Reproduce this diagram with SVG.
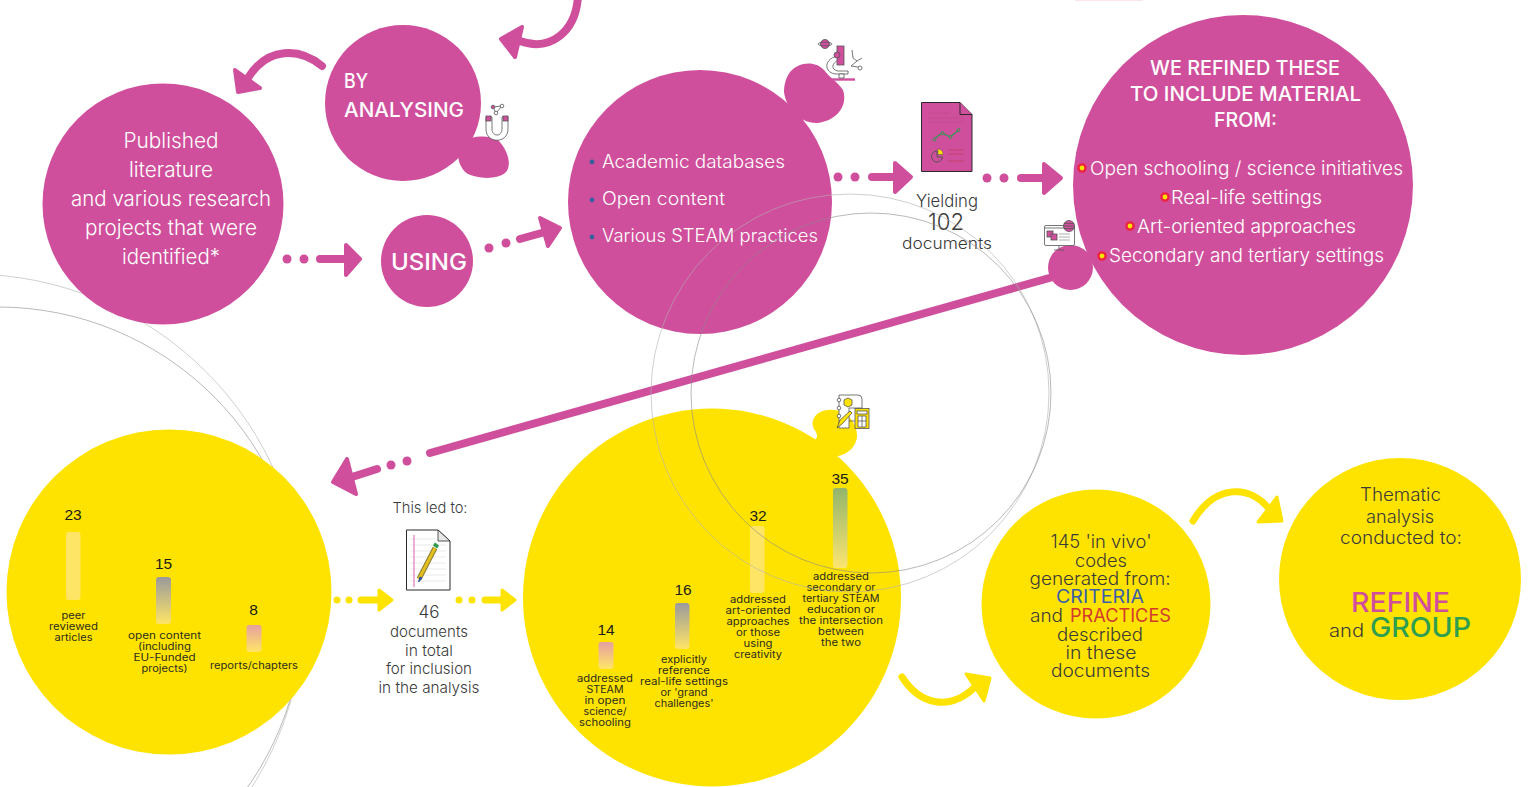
<svg xmlns="http://www.w3.org/2000/svg" width="1531" height="787" viewBox="0 0 1531 787">
<style>
text{font-family:"Inter","Lato","Liberation Sans",sans-serif;font-weight:300;text-anchor:middle;fill:#3a3a3a}
.w{fill:#fff}
.b{font-weight:500}
.l{text-anchor:start}
.p{fill:#d04f9c}
.y{fill:#ffe300}
.pa{fill:#d04f9c;stroke:#d04f9c;stroke-width:4;stroke-linejoin:round}
.ps{fill:none;stroke:#d04f9c;stroke-width:8;stroke-linecap:round}
.ya{fill:#ffe300;stroke:#ffe300;stroke-width:3;stroke-linejoin:round}
.ys{fill:none;stroke:#ffe300;stroke-width:7;stroke-linecap:round}
.n{font-family:"Liberation Sans",Arial,sans-serif;font-weight:400;font-size:15.5px;fill:#1c1c1c}
.s{font-size:10px;fill:#2c2c20;font-weight:400}
.f22{font-size:21px}.f19{font-size:18px}.f17{font-size:16px}
.arc{fill:none;stroke:#b0b0b0;stroke-width:.6}
.arc2{fill:none;stroke:#8a8a8a;stroke-width:.6}
.ic{fill:none;stroke:#555;stroke-width:.8}
.rd{fill:#ffe300;stroke:#ee2244;stroke-width:2.4}
.bd{fill:#3a5f9e}
</style>
<defs>
<linearGradient id="gp" x1="0" y1="0" x2="0" y2="1"><stop offset="0" stop-color="#ffe566"/><stop offset="1" stop-color="#ffe566"/></linearGradient>
<linearGradient id="gg" x1="0" y1="0" x2="0" y2="1"><stop offset="0" stop-color="#9a9a9c"/><stop offset="1" stop-color="#ffe566"/></linearGradient>
<linearGradient id="gr" x1="0" y1="0" x2="0" y2="1"><stop offset="0" stop-color="#e6a0a0"/><stop offset="1" stop-color="#ffe566"/></linearGradient>
<linearGradient id="gv" x1="0" y1="0" x2="0" y2="1"><stop offset="0" stop-color="#93b56c"/><stop offset="1" stop-color="#fbe570"/></linearGradient>
</defs>

<g id="background-arcs">
<circle class="arc" cx="-30" cy="608" r="334"/>
<circle class="arc2" cx="-2" cy="612" r="305"/>
<rect x="1075" y="0" width="68" height="1" fill="#fbe3f0"/>
</g>

<g id="connectors">
<path class="ps" d="M578 -4C576 32 550 52 520 41"/>
<path class="pa" d="M522 27L501 39L515 57Z"/>
<path class="ps" d="M322 66C300 48 268 46 248 78"/>
<path class="pa" d="M235 70L260 88L238 92Z"/>
<g><circle class="p" cx="287" cy="259" r="4.5"/><circle class="p" cx="304" cy="259" r="4.5"/><path class="ps" d="M320 259H345"/><path class="pa" d="M346 245L360 259L346 275Z"/></g>
<g><circle class="p" cx="489" cy="248" r="4.5"/><circle class="p" cx="506" cy="243" r="4.5"/><path class="ps" d="M520 239L545 232"/><path class="pa" d="M540 218L560 228L548 246Z"/></g>
<g><circle class="p" cx="838" cy="177" r="4.5"/><circle class="p" cx="855" cy="177" r="4.5"/><path class="ps" d="M872 177H897"/><path class="pa" d="M895 163L911 177L895 192Z"/></g>
<g><circle class="p" cx="987" cy="178" r="4.5"/><circle class="p" cx="1004" cy="178" r="4.5"/><path class="ps" d="M1021 178H1044"/><path class="pa" d="M1044 164L1061 178L1044 193Z"/></g>
<path class="ps" d="M1060 275L430 453"/>
<g><circle class="p" cx="407" cy="461" r="4.5"/><circle class="p" cx="391" cy="465" r="4.5"/><path class="ps" d="M377 469L352 477"/><path class="pa" d="M347 459L333 482L356 494Z"/></g>
<g><circle class="y" cx="337" cy="600" r="3.5"/><circle class="y" cx="349" cy="600" r="3.5"/><path class="ys" d="M361 600H380"/><path class="ya" d="M379 590L392 600L379 610Z"/></g>
<g><circle class="y" cx="459" cy="600" r="3.5"/><circle class="y" cx="472" cy="600" r="3.5"/><path class="ys" d="M485 600H502"/><path class="ya" d="M502 590L515 600L502 610Z"/></g>
<path class="ys" d="M902 677C920 705 950 712 976 686"/>
<path class="ya" d="M966 674L990 678L984 701Z"/>
<path class="ys" d="M1193 521C1215 484 1250 484 1270 510"/>
<path class="ya" d="M1277 497L1282 521L1258 522Z"/>
</g>

<g id="published"><circle class="p" cx="163" cy="204" r="120.500"/>
<text class="w f22" x="171" y="148" textLength="95" lengthAdjust="spacingAndGlyphs">Published</text>
<text class="w f22" x="171" y="177" textLength="84" lengthAdjust="spacingAndGlyphs">literature</text>
<text class="w f22" x="171" y="206" textLength="200" lengthAdjust="spacingAndGlyphs">and various research</text>
<text class="w f22" x="171" y="235" textLength="172" lengthAdjust="spacingAndGlyphs">projects that were</text>
<text class="w f22" x="171" y="264" textLength="98" lengthAdjust="spacingAndGlyphs">identified*</text>
</g>

<g id="by-analysing"><circle class="p" cx="403" cy="103" r="78"/>
<path class="p" d="M462 142C472 135 490 135 498 140C508 150 512 165 506 172C498 180 478 179 468 174C458 168 455 152 462 142Z"/>
<text class="w b" x="344" y="88" font-size="20" style="text-anchor:start" textLength="24" lengthAdjust="spacingAndGlyphs">BY</text>
<text class="w b" x="344" y="117" font-size="20" style="text-anchor:start" textLength="120" lengthAdjust="spacingAndGlyphs">ANALYSING</text>
<g class="ic"><path d="M486 117V129C486 144 508 144 508 129V117H502V129C502 137 492 137 492 129V117Z" fill="#fff"/><rect x="486" y="116" width="5" height="5" fill="#d04f9c"/><rect x="503" y="116" width="5" height="5" fill="#d04f9c"/><path d="M493 107L502 106L496 113Z"/><circle cx="493" cy="107" r="1.8" fill="#d04f9c"/><circle cx="502" cy="106" r="1.8" fill="#fff"/><circle cx="496" cy="113" r="1.8" fill="#fff"/></g>
</g>

<g id="using"><circle class="p" cx="427" cy="261" r="46"/>
<text class="w b" x="429" y="270" font-size="23" textLength="76" lengthAdjust="spacingAndGlyphs">USING</text>
</g>

<g id="academic"><circle class="p" cx="700" cy="202" r="132"/>
<path class="p" d="M790 72C798 62 815 60 824 70C830 78 838 82 843 90C848 105 838 120 818 123C800 124 786 108 784 92C784 84 786 78 790 72Z"/>
<circle class="bd" cx="592" cy="162" r="2.4"/><circle class="bd" cx="592" cy="200" r="2.4"/><circle class="bd" cx="592" cy="237" r="2.4"/>
<text class="w l" x="602" y="168" font-size="18" textLength="183" lengthAdjust="spacingAndGlyphs">Academic databases</text>
<text class="w l" x="602" y="205" font-size="18" textLength="123" lengthAdjust="spacingAndGlyphs">Open content</text>
<text class="w l" x="602" y="242" font-size="18" textLength="216" lengthAdjust="spacingAndGlyphs">Various STEAM practices</text>
<g class="ic"><path d="M826 79.500H855" stroke="#d04f9c" stroke-width="2.400"/><path d="M838 56C824 58 823 73 836 74H848V71H838C831 70 831 63 839 60Z" fill="#fff"/><path d="M839 74H844V78H839Z" fill="#fff"/><rect x="837" y="46" width="7" height="19" fill="#d04f9c"/><circle cx="837" cy="55" r="3" fill="#d04f9c"/><path d="M852 50L853 58L857 61L851 66L858 67M857 61L862 58"/><circle cx="860" cy="68" r="2" fill="#fff"/><circle cx="825" cy="44" r="4.500" fill="#d04f9c"/><ellipse cx="825" cy="44" rx="7" ry="1.800"/></g>
</g>

<g id="doc-pink">
<path d="M921.500 102.500H960L972 114.500V171.500H921.500Z" fill="#d04f9c" stroke="#2a2a2a" stroke-width="1"/>
<path d="M960 102.500V114.500H972" fill="#d04f9c" stroke="#2a2a2a"/>
<path d="M928 113H950M928 118H964M928 122H964" stroke="#b84a86" stroke-width=".7"/>
<path d="M934 139L942 133L950 137L959 130" fill="none" stroke="#2d9a50" stroke-width="1.100"/>
<g fill="#d04f9c" stroke="#2d9a50" stroke-width="1"><circle cx="934.500" cy="139.500" r="1.500"/><circle cx="942.500" cy="133" r="1.500"/><circle cx="950.500" cy="137" r="1.500"/><circle cx="958.500" cy="130" r="1.500"/></g>
<path d="M937 151A5.500 5.500 0 1 0 942.500 157H937Z" fill="none" stroke="#555" stroke-width="1"/>
<path d="M938 149A5 5 0 0 1 943 154.500H938Z" fill="#ffe300" stroke="#555" stroke-width=".5"/>
<path d="M948 150H964M948 154H964M948 161H964" stroke="#c23c60" stroke-width=".8"/>
<text x="947" y="207" font-size="17" textLength="62" lengthAdjust="spacingAndGlyphs">Yielding</text>
<text x="946" y="230" font-size="23" textLength="36" lengthAdjust="spacingAndGlyphs">102</text>
<text x="947" y="249" font-size="16" textLength="90" lengthAdjust="spacingAndGlyphs">documents</text>
</g>

<g id="refined"><circle class="p" cx="1243" cy="185" r="170"/>
<circle class="p" cx="1070.500" cy="267.500" r="22.500"/>
<text class="w b" x="1245" y="75" font-size="20" textLength="190" lengthAdjust="spacingAndGlyphs">WE REFINED THESE</text>
<text class="w b" x="1245.500" y="101" font-size="20" textLength="231" lengthAdjust="spacingAndGlyphs">TO INCLUDE MATERIAL</text>
<text class="w b" x="1245.500" y="127" font-size="20" textLength="63" lengthAdjust="spacingAndGlyphs">FROM:</text>
<circle class="rd" cx="1082" cy="168" r="3.600"/><circle class="rd" cx="1165" cy="197" r="3.600"/><circle class="rd" cx="1130" cy="226" r="3.600"/><circle class="rd" cx="1102" cy="256" r="3.600"/>
<text class="w l" x="1090" y="175" font-size="19" textLength="313" lengthAdjust="spacingAndGlyphs">Open schooling / science initiatives</text>
<text class="w l" x="1171" y="204" font-size="19" textLength="151" lengthAdjust="spacingAndGlyphs">Real-life settings</text>
<text class="w l" x="1137" y="233" font-size="19" textLength="219" lengthAdjust="spacingAndGlyphs">Art-oriented approaches</text>
<text class="w l" x="1109" y="262" font-size="19" textLength="275" lengthAdjust="spacingAndGlyphs">Secondary and tertiary settings</text>
<g class="ic"><rect x="1044.500" y="225.500" width="30" height="20" rx="1.500" fill="#fff"/><path d="M1044.500 228H1074.500M1059 245.500V249M1054 250H1064" /><rect x="1047" y="231" width="6" height="6" fill="#d04f9c"/><rect x="1051" y="234" width="6" height="6" fill="#d04f9c"/><path d="M1059 234H1070M1059 237H1070M1059 240H1070" stroke="#999"/><circle cx="1069" cy="226" r="5.500" fill="#d04f9c"/><path d="M1063.500 226H1074.500M1064 223.500H1074M1064 228.500H1074"/></g>
</g>

<g id="yellow-left"><circle class="y" cx="169" cy="592" r="162.500"/>
<text class="n" x="73" y="520">23</text>
<rect x="66" y="532" width="14.500" height="68" rx="3" fill="url(#gp)"/>
<text class="n" x="163.500" y="569">15</text>
<rect x="156" y="577" width="15" height="47" rx="3" fill="url(#gg)"/>
<text class="n" x="253.500" y="615">8</text>
<rect x="246.500" y="625" width="15" height="27" rx="3" fill="url(#gr)"/>
<text class="s" x="73.500" y="619" textLength="24" lengthAdjust="spacingAndGlyphs">peer</text>
<text class="s" x="73.500" y="630" textLength="49" lengthAdjust="spacingAndGlyphs">reviewed</text>
<text class="s" x="73.500" y="641" textLength="38" lengthAdjust="spacingAndGlyphs">articles</text>
<text class="s" x="164.500" y="639" textLength="73" lengthAdjust="spacingAndGlyphs">open content</text>
<text class="s" x="164.500" y="650" textLength="53" lengthAdjust="spacingAndGlyphs">(including</text>
<text class="s" x="164.500" y="661" textLength="62" lengthAdjust="spacingAndGlyphs">EU-Funded</text>
<text class="s" x="164.500" y="672" textLength="46" lengthAdjust="spacingAndGlyphs">projects)</text>
<text class="s" x="254" y="669" textLength="88" lengthAdjust="spacingAndGlyphs">reports/chapters</text>
</g>

<g id="doc-white">
<text x="430" y="513" font-size="15" textLength="75" lengthAdjust="spacingAndGlyphs">This led to:</text>
<path d="M406.500 530H438L450 541V590H406.500Z" fill="#fff" stroke="#2a2a2a" stroke-width="1"/>
<path d="M438 530V541H450Z" fill="#e8e8e8" stroke="#2a2a2a" stroke-width=".8"/>
<path d="M410 539H436M410 545H446M410 551H446M410 557H446M410 563H446M410 569H446M410 575H446M410 581H446" stroke="#e4e4e4" stroke-width=".8"/>
<path d="M414 535V587" stroke="#e69ad0" stroke-width="1.600"/>
<path d="M419 579L435 548" stroke="#8a7a30" stroke-width="5"/><path d="M419 579L435 548" stroke="#e3bf20" stroke-width="3"/>
<path d="M435 547L437 544" stroke="#2d9a50" stroke-width="5"/><path d="M420 577L418.500 582L422 578Z" fill="#2a4e9a" stroke="#2a4e9a"/>
<text x="429" y="618" font-size="17" textLength="21" lengthAdjust="spacingAndGlyphs">46</text>
<text x="429" y="637" font-size="15" textLength="78" lengthAdjust="spacingAndGlyphs">documents</text>
<text x="429" y="656" font-size="15" textLength="48" lengthAdjust="spacingAndGlyphs">in total</text>
<text x="429" y="674" font-size="15" textLength="86" lengthAdjust="spacingAndGlyphs">for inclusion</text>
<text x="429" y="693" font-size="15" textLength="101" lengthAdjust="spacingAndGlyphs">in the analysis</text>
</g>

<g id="yellow-mid"><circle class="y" cx="712" cy="597.500" r="189"/>
<path class="y" d="M808 447C812 440 820 440 816 432C808 422 815 411 828 410C845 408 858 422 857 437C855 452 840 458 830 456Z"/>
<g class="ic"><path d="M839 395H858Q862 395 862 399V408H849V428H839Z" fill="#fff"/><circle cx="839" cy="400" r="1.800" fill="#fff"/><circle cx="839" cy="408" r="1.800" fill="#fff"/><circle cx="839" cy="416" r="1.800" fill="#fff"/><path d="M848 398L852 400V405L848 407L844 405V400Z" fill="#ffe300"/><rect x="855" y="408.500" width="14" height="20" fill="#ffe300"/><rect x="857" y="411" width="10" height="3" fill="#fff"/><path d="M858 416H866V427H858ZM858 421H866M862 416V427" fill="#fff"/><path d="M837 428L840 420L850 411L852 413L842 424Z" fill="#ffe300"/><path d="M849 421H855"/></g>
<text class="n" x="606" y="635">14</text>
<rect x="598.500" y="642" width="15" height="27" rx="3" fill="url(#gr)"/>
<text class="n" x="683" y="595">16</text>
<rect x="675" y="603" width="14.500" height="46" rx="3" fill="url(#gg)"/>
<text class="n" x="758" y="521">32</text>
<rect x="750" y="526" width="14.500" height="67" rx="3" fill="url(#gp)"/>
<text class="n" x="840" y="484">35</text>
<rect x="833" y="488" width="14.500" height="80" rx="3" fill="url(#gv)"/>
<text class="s" x="605" y="682" textLength="56" lengthAdjust="spacingAndGlyphs">addressed</text>
<text class="s" x="605" y="693" textLength="37" lengthAdjust="spacingAndGlyphs">STEAM</text>
<text class="s" x="605" y="704" textLength="41" lengthAdjust="spacingAndGlyphs">in open</text>
<text class="s" x="605" y="715" textLength="43" lengthAdjust="spacingAndGlyphs">science/</text>
<text class="s" x="605" y="726" textLength="52" lengthAdjust="spacingAndGlyphs">schooling</text>
<text class="s" x="684" y="663" textLength="46" lengthAdjust="spacingAndGlyphs">explicitly</text>
<text class="s" x="684" y="674" textLength="52" lengthAdjust="spacingAndGlyphs">reference</text>
<text class="s" x="684" y="685" textLength="88" lengthAdjust="spacingAndGlyphs">real-life settings</text>
<text class="s" x="684" y="696" textLength="47" lengthAdjust="spacingAndGlyphs">or 'grand</text>
<text class="s" x="684" y="707" textLength="59" lengthAdjust="spacingAndGlyphs">challenges'</text>
<text class="s" x="758" y="603" textLength="56" lengthAdjust="spacingAndGlyphs">addressed</text>
<text class="s" x="758" y="614" textLength="65" lengthAdjust="spacingAndGlyphs">art-oriented</text>
<text class="s" x="758" y="625" textLength="63" lengthAdjust="spacingAndGlyphs">approaches</text>
<text class="s" x="758" y="636" textLength="44" lengthAdjust="spacingAndGlyphs">or those</text>
<text class="s" x="758" y="647" textLength="29" lengthAdjust="spacingAndGlyphs">using</text>
<text class="s" x="758" y="658" textLength="48" lengthAdjust="spacingAndGlyphs">creativity</text>
<text class="s" x="841" y="580" textLength="56" lengthAdjust="spacingAndGlyphs">addressed</text>
<text class="s" x="841" y="591" textLength="69" lengthAdjust="spacingAndGlyphs">secondary or</text>
<text class="s" x="841" y="602" textLength="77" lengthAdjust="spacingAndGlyphs">tertiary STEAM</text>
<text class="s" x="841" y="613" textLength="68" lengthAdjust="spacingAndGlyphs">education or</text>
<text class="s" x="841" y="624" textLength="84" lengthAdjust="spacingAndGlyphs">the intersection</text>
<text class="s" x="841" y="635" textLength="46" lengthAdjust="spacingAndGlyphs">between</text>
<text class="s" x="841" y="646" textLength="40" lengthAdjust="spacingAndGlyphs">the two</text>
</g>

<g id="codes"><circle class="y" cx="1096" cy="604" r="114.500"/>
<text class="f19" x="1101" y="548" textLength="101" lengthAdjust="spacingAndGlyphs">145 'in vivo'</text>
<text class="f19" x="1101" y="567" textLength="52" lengthAdjust="spacingAndGlyphs">codes</text>
<text class="f19" x="1100" y="585" textLength="141" lengthAdjust="spacingAndGlyphs">generated from:</text>
<text class="f19 b" x="1100" y="603" textLength="88" lengthAdjust="spacingAndGlyphs" style="fill:#3a5fa8;font-weight:400">CRITERIA</text>
<text class="f19 l" x="1030" y="622" textLength="33" lengthAdjust="spacingAndGlyphs">and</text>
<text class="f19 l" x="1070" y="622" textLength="101" lengthAdjust="spacingAndGlyphs" style="fill:#d23a2e;font-weight:400">PRACTICES</text>
<text class="f19" x="1100" y="641" textLength="86" lengthAdjust="spacingAndGlyphs">described</text>
<text class="f19" x="1101" y="659" textLength="71" lengthAdjust="spacingAndGlyphs">in these</text>
<text class="f19" x="1100.500" y="677" textLength="99" lengthAdjust="spacingAndGlyphs">documents</text>
</g>

<g id="thematic"><circle class="y" cx="1400" cy="579" r="121"/>
<text class="f19" x="1400.500" y="501" textLength="81" lengthAdjust="spacingAndGlyphs">Thematic</text>
<text class="f19" x="1400" y="523" textLength="68" lengthAdjust="spacingAndGlyphs">analysis</text>
<text class="f19" x="1401" y="544" textLength="122" lengthAdjust="spacingAndGlyphs">conducted to:</text>
<text class="l" x="1351" y="612" font-size="27" textLength="99" lengthAdjust="spacingAndGlyphs" style="fill:#d04f9c;font-weight:500">REFINE</text>
<text class="f19 l" x="1329" y="637" textLength="35" lengthAdjust="spacingAndGlyphs">and</text>
<text class="l" x="1370" y="637" font-size="27" textLength="101" lengthAdjust="spacingAndGlyphs" style="fill:#2e9e50;font-weight:500">GROUP</text>
</g>

<g id="foreground-arcs">
<circle class="arc" cx="850" cy="393" r="199"/>
<circle class="arc2" cx="871" cy="393" r="180"/>
</g>
</svg>
